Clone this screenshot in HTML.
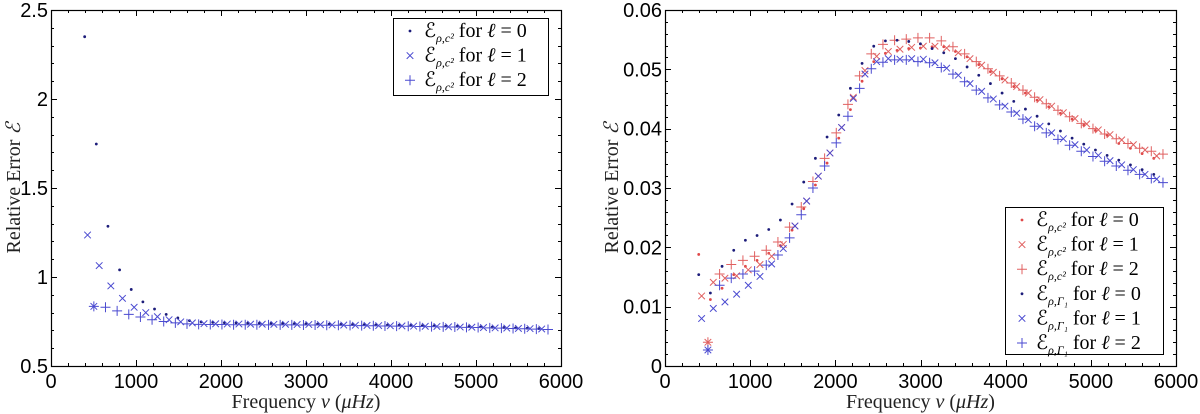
<!DOCTYPE html>
<html><head><meta charset="utf-8">
<style>
body{margin:0;background:#fff;}
svg{display:block;}
.tk{font-family:"Liberation Sans",sans-serif;font-size:20px;fill:#000;}
.ti{font-family:"Liberation Serif",serif;font-size:20px;fill:#222;}
.lg{font-family:"Liberation Serif","DejaVu Serif",serif;font-size:20px;fill:#000;}
.sb{font-size:12px;}
</style></head>
<body>
<svg id="chart" width="1200" height="414" xmlns="http://www.w3.org/2000/svg"></svg>
<script>
// ---- data ----
const freqL0 = [396,533,670,807,944,1081,1218,1355,1492,1629,1766,1903,2040,2177,2314,2451,2588,2725,2862,2999,3136,3273,3410,3547,3684,3821,3958,4095,4232,4369,4506,4643,4780,4917,5054,5191,5328,5465,5602,5739];
const freqL1 = [430,567,704,841,978,1115,1252,1389,1526,1663,1800,1937,2074,2211,2348,2485,2622,2759,2896,3033,3170,3307,3444,3581,3718,3855,3992,4129,4266,4403,4540,4677,4814,4951,5088,5225,5362,5499,5636,5773];
const freqL2 = [504,641,778,915,1052,1189,1326,1463,1600,1737,1874,2011,2148,2285,2422,2559,2696,2833,2970,3107,3244,3381,3518,3655,3792,3929,4066,4203,4340,4477,4614,4751,4888,5025,5162,5299,5436,5573,5710,5847];

// left panel: E_{rho,c2}
const leftL0 = [2.35,1.747,1.285,1.04,0.93,0.86,0.82,0.79,0.77,0.755,0.748,0.745,0.743,0.742,0.741,0.740,0.739,0.739,0.738,0.737,0.736,0.735,0.734,0.733,0.732,0.731,0.730,0.729,0.728,0.727,0.726,0.724,0.723,0.722,0.720,0.718,0.716,0.714,0.712,0.710];
const leftL1 = [1.236,1.064,0.95,0.88,0.83,0.80,0.777,0.76,0.748,0.742,0.738,0.737,0.736,0.736,0.735,0.735,0.734,0.734,0.733,0.733,0.732,0.731,0.730,0.729,0.728,0.727,0.726,0.725,0.724,0.723,0.722,0.720,0.719,0.718,0.716,0.714,0.713,0.711,0.710,0.708];
const leftL2 = [0.835,0.83,0.81,0.79,0.775,0.76,0.75,0.742,0.737,0.734,0.733,0.733,0.732,0.732,0.732,0.731,0.731,0.731,0.730,0.730,0.729,0.729,0.728,0.727,0.726,0.725,0.724,0.723,0.722,0.721,0.720,0.719,0.717,0.716,0.714,0.713,0.711,0.709,0.707,0.705];

// right panel
const c2L0 = [0.0188,0.0112,0.0131,0.0154,0.0168,0.0178,0.0190,0.0203,0.0229,0.0265,0.0305,0.0342,0.0384,0.0432,0.0480,0.0513,0.0527,0.0532,0.0535,0.0536,0.0538,0.0538,0.0530,0.0521,0.0508,0.0496,0.0484,0.0471,0.0460,0.0448,0.0437,0.0426,0.0416,0.0406,0.0397,0.0389,0.0375,0.0367,0.0358,0.0350];
const c2L1 = [0.0118,0.0141,0.0148,0.0152,0.0162,0.0171,0.0185,0.0205,0.0236,0.0278,0.0320,0.0359,0.0402,0.0453,0.0498,0.0522,0.0530,0.0534,0.0537,0.0539,0.0539,0.0536,0.0528,0.0518,0.0507,0.0495,0.0482,0.0471,0.0460,0.0449,0.0438,0.0427,0.0417,0.0408,0.0398,0.0390,0.0381,0.0373,0.0364,0.0354];
const c2L2 = [0.0040,0.0155,0.0171,0.0178,0.0185,0.0195,0.0209,0.0234,0.0268,0.0311,0.0350,0.0393,0.0441,0.0489,0.0526,0.0542,0.0549,0.0551,0.0553,0.0553,0.0548,0.0538,0.0526,0.0513,0.0501,0.0489,0.0477,0.0465,0.0453,0.0442,0.0431,0.0420,0.0409,0.0400,0.0391,0.0383,0.0375,0.0367,0.0362,0.0357];
const g1L0 = [0.0154,0.0123,0.0168,0.0195,0.0212,0.0220,0.0230,0.0246,0.0273,0.0310,0.0350,0.0386,0.0423,0.0468,0.0510,0.0539,0.0548,0.0549,0.0547,0.0543,0.0535,0.0528,0.0518,0.0504,0.0490,0.0476,0.0460,0.0446,0.0433,0.0421,0.0408,0.0396,0.0384,0.0374,0.0364,0.0355,0.0347,0.0339,0.0331,0.0323];
const g1L1 = [0.0080,0.0097,0.0108,0.0121,0.0136,0.0151,0.0172,0.0198,0.0236,0.0278,0.0320,0.0359,0.0402,0.0451,0.0492,0.0513,0.0518,0.0517,0.0518,0.0517,0.0511,0.0502,0.0490,0.0476,0.0463,0.0450,0.0438,0.0426,0.0415,0.0404,0.0393,0.0383,0.0373,0.0364,0.0355,0.0346,0.0339,0.0331,0.0323,0.0315];
const g1L2 = [0.0027,0.0136,0.0148,0.0155,0.0160,0.0170,0.0187,0.0216,0.0255,0.0300,0.0337,0.0376,0.0421,0.0468,0.0501,0.0512,0.0516,0.0516,0.0513,0.0511,0.0503,0.0492,0.0479,0.0465,0.0452,0.0440,0.0428,0.0416,0.0404,0.0393,0.0382,0.0372,0.0362,0.0353,0.0345,0.0337,0.0330,0.0323,0.0316,0.0309];

const xTicks = ["0","1000","2000","3000","4000","5000","6000"];
const yTicksLeft = ["0.5","1","1.5","2","2.5"];
const yTicksRight = ["0","0.01","0.02","0.03","0.04","0.05","0.06"];

const NS = "http://www.w3.org/2000/svg";
const svg = document.getElementById('chart');
function mk(tag, attrs, parent){
  const e = document.createElementNS(NS, tag);
  for (const k in attrs) e.setAttribute(k, attrs[k]);
  (parent||svg).appendChild(e);
  return e;
}

const NAVY = "#1c1c7a", BLUE = "#4a4ad0", RED = "#e04848", RED2 = "#e06060";

function marker(g, kind, x, y, color){
  let e;
  if (kind === 'dot') {
    e = mk('circle', {cx:x, cy:y, r:1.4, fill:color}, g);
  } else if (kind === 'x') {
    e = mk('path', {d:`M${x-3.3},${y-3.3}L${x+3.3},${y+3.3}M${x-3.3},${y+3.3}L${x+3.3},${y-3.3}`, stroke:color, 'stroke-width':1, fill:'none'}, g);
  } else {
    e = mk('path', {d:`M${x-5},${y}L${x+5},${y}M${x},${y-5}L${x},${y+5}`, stroke:color, 'stroke-width':1, fill:'none'}, g);
  }
  
  
}

function panel(opt){
  const {x0,x1,y0,y1,ymin,ymax,yLabels,yMinorStep,name} = opt;
  const g = mk('g', {});
  
  
  const sx = v => x0 + (v/6000)*(x1-x0);
  const sy = v => y1 - (v-ymin)/(ymax-ymin)*(y1-y0);
  const tg = mk('g', {stroke:'#000','stroke-width':1}, g);
  for (let f=0; f<=6000; f+=200){
    const L = (f%1000===0)?6:3, X = Math.round(sx(f))+0.5;
    mk('line',{x1:X,y1:y1,x2:X,y2:y1-L},tg);
    mk('line',{x1:X,y1:y0,x2:X,y2:y0+L},tg);
  }
  const nMinor = Math.round((ymax-ymin)/yMinorStep);
  for (let i=0;i<=nMinor;i++){
    const v = ymin + i*yMinorStep, L = (i%5===0)?6:3, Y = Math.round(sy(v))+0.5;
    mk('line',{x1:x0,y1:Y,x2:x0+L,y2:Y},tg);
    mk('line',{x1:x1,y1:Y,x2:x1-L,y2:Y},tg);
  }
  mk('rect',{x:x0+0.5,y:y0+0.5,width:x1-x0,height:y1-y0,fill:'none',stroke:'#000','stroke-width':1.2},g);
  xTicks.forEach(t=>{
    const e = mk('text',{x:sx(+t),y:y1+22,'text-anchor':'middle',class:'tk'},g);
    e.textContent = t;
    
    
  });
  yLabels.forEach(t=>{
    const e = mk('text',{x:x0-3,y:sy(+t)+7,'text-anchor':'end',class:'tk'},g);
    e.textContent = t;
    
    
  });
  const xt = mk('text',{x:(x0+x1)/2,y:408,'text-anchor':'middle',class:'ti'},g);
  xt.innerHTML = 'Frequency <tspan font-style="italic">ν</tspan> (<tspan font-style="italic">μHz</tspan>)';
  
  
  const yx = opt.yTitleX, yy = (y0+y1)/2;
  const yt = mk('text',{x:yx,y:yy,'text-anchor':'middle',class:'ti',transform:`rotate(-90 ${yx} ${yy})`},g);
  yt.innerHTML = 'Relative Error <tspan font-style="italic">ℰ</tspan>';
  
  
  return {g,sx,sy};
}

function series(p, freqs, vals, kind, color, name, star){
  const g = mk('g',{},p.g);
  
  
  vals.forEach((v,i)=>{
    marker(g, kind, p.sx(freqs[i]), p.sy(v), color);
    if (star && i===0) marker(g, 'x', p.sx(freqs[i]), p.sy(v), color);
  });
}

function legend(p, x, y, w, h, entries, name){
  const g = mk('g',{},p.g);
  
  
  mk('rect',{x:x+0.5,y:y+0.5,width:w,height:h,fill:'#fff',stroke:'#000','stroke-width':1},g);
  entries.forEach((en,i)=>{
    const cy = y + 13 + i*24.6;
    const eg = mk('g',{},g);
    
    
    marker(eg, en.kind, x+17, cy, en.color);
    const t = mk('text',{x:x+31,y:cy+6,class:'lg'},eg);
    t.innerHTML = `ℰ<tspan class="sb" dy="5" font-style="italic">ρ,${en.sub}</tspan><tspan dy="-5"> for </tspan><tspan font-style="italic">ℓ</tspan> = ${en.l}`;
  });
}

const L = panel({x0:51,x1:561,y0:10,y1:366,ymin:0.5,ymax:2.5,yLabels:yTicksLeft,yMinorStep:0.1,yTitleX:20,name:'left-panel'});
series(L, freqL0, leftL0, 'dot', NAVY, 'series-c2-l0');
series(L, freqL1, leftL1, 'x', BLUE, 'series-c2-l1');
series(L, freqL2, leftL2, 'plus', BLUE, 'series-c2-l2', true);
legend(L, 393, 18, 155, 77, [
  {kind:'dot',color:NAVY,sub:'c²',l:0},
  {kind:'x',color:BLUE,sub:'c²',l:1},
  {kind:'plus',color:BLUE,sub:'c²',l:2}], 'legend-left');

const R = panel({x0:665,x1:1176,y0:10,y1:366,ymin:0,ymax:0.06,yLabels:yTicksRight,yMinorStep:0.002,yTitleX:618,name:'right-panel'});
series(R, freqL0, c2L0, 'dot', RED, 'series-c2-l0');
series(R, freqL1, c2L1, 'x', RED2, 'series-c2-l1');
series(R, freqL2, c2L2, 'plus', RED2, 'series-c2-l2', true);
series(R, freqL0, g1L0, 'dot', NAVY, 'series-gamma1-l0');
series(R, freqL1, g1L1, 'x', BLUE, 'series-gamma1-l1');
series(R, freqL2, g1L2, 'plus', BLUE, 'series-gamma1-l2', true);
legend(R, 1005, 207, 158, 147, [
  {kind:'dot',color:RED,sub:'c²',l:0},
  {kind:'x',color:RED2,sub:'c²',l:1},
  {kind:'plus',color:RED2,sub:'c²',l:2},
  {kind:'dot',color:NAVY,sub:'Γ₁',l:0},
  {kind:'x',color:BLUE,sub:'Γ₁',l:1},
  {kind:'plus',color:BLUE,sub:'Γ₁',l:2}], 'legend-right');
</script>
</body></html>
